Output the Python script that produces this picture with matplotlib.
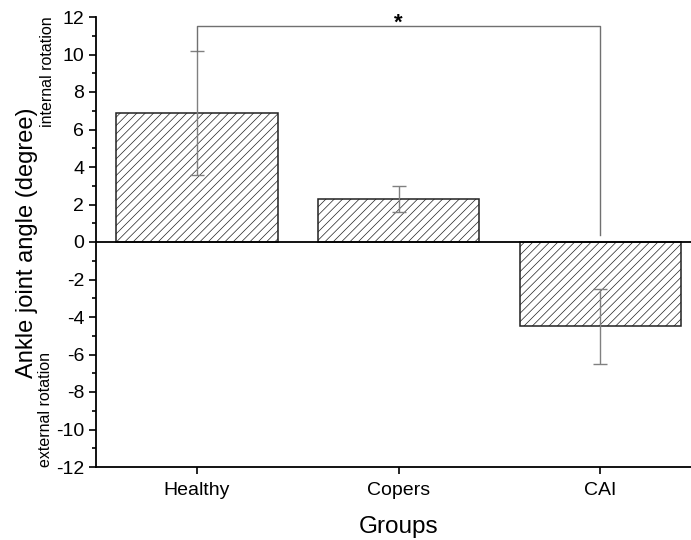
import matplotlib.pyplot as plt
import numpy

plt.rcParams['font.family'] = ['Liberation Sans', 'DejaVu Sans']
plt.rcParams['hatch.linewidth'] = 0.5
plt.rcParams['axes.unicode_minus'] = False

#####################################################################
# data
groups = ["Healthy", "Copers", "CAI"]
angle_mean = [6.9, 2.3, -4.5]
angle_sd = [3.3, 0.7, 2.0]
yticks = list(range(-12, 13, 2))

# significance bracket Healthy vs CAI
bracket_top = 11.5
bracket_left_end = 10.2
bracket_right_end = 0.4

#####################################################################
fig = plt.figure(figsize=(6.91, 5.4), dpi=100)
s1 = fig.add_axes([96/691, 73/540, 605/691, 450/540])

x = numpy.arange(1, len(groups)+1)
s1.bar(x, angle_mean, width=0.8, color='white', edgecolor='#202020',
       linewidth=1.1, hatch='////', zorder=2)
s1.errorbar(x, angle_mean, yerr=angle_sd, fmt='none', ecolor='#808080',
            elinewidth=1.0, capsize=5, capthick=1.0, zorder=3)
s1.axhline(0, color='black', linewidth=1.3, zorder=4)

# bracket + star
s1.plot([x[0], x[0], x[2], x[2]],
        [bracket_left_end, bracket_top, bracket_top, bracket_right_end],
        color='#707070', linewidth=1.0, zorder=3)
s1.text((x[0]+x[2])/2, bracket_top - 0.1, '*', ha='center', va='baseline',
        fontsize=16, fontweight='bold')

s1.set_xlim(0.5, 3.5)
s1.set_ylim(-12, 12)
s1.set_xticks(x)
s1.set_xticklabels(groups)
s1.set_yticks(yticks)
s1.set_yticks(range(-11, 12, 2), minor=True)
s1.tick_params(axis='both', which='major', direction='out', length=5,
               width=1.2, labelsize=14)
s1.tick_params(axis='y', which='minor', direction='out', length=3, width=1.2)
s1.tick_params(axis='x', which='major', pad=6)

for side in ['top', 'right']:
    s1.spines[side].set_visible(False)
for side in ['left', 'bottom']:
    s1.spines[side].set_linewidth(1.3)

s1.set_xlabel('Groups', fontsize=17.5, labelpad=12)
fig.text(27/691, 1 - 243/540, 'Ankle joint angle (degree)', rotation=90,
         ha='center', va='center', fontsize=17)
fig.text(47/691, 1 - 16/540, 'internal rotation', rotation=90,
         ha='center', va='top', fontsize=11.5)
fig.text(46/691, 1 - 467/540, 'external rotation', rotation=90,
         ha='center', va='bottom', fontsize=11.5)

plt.savefig('out.png', dpi=100)
